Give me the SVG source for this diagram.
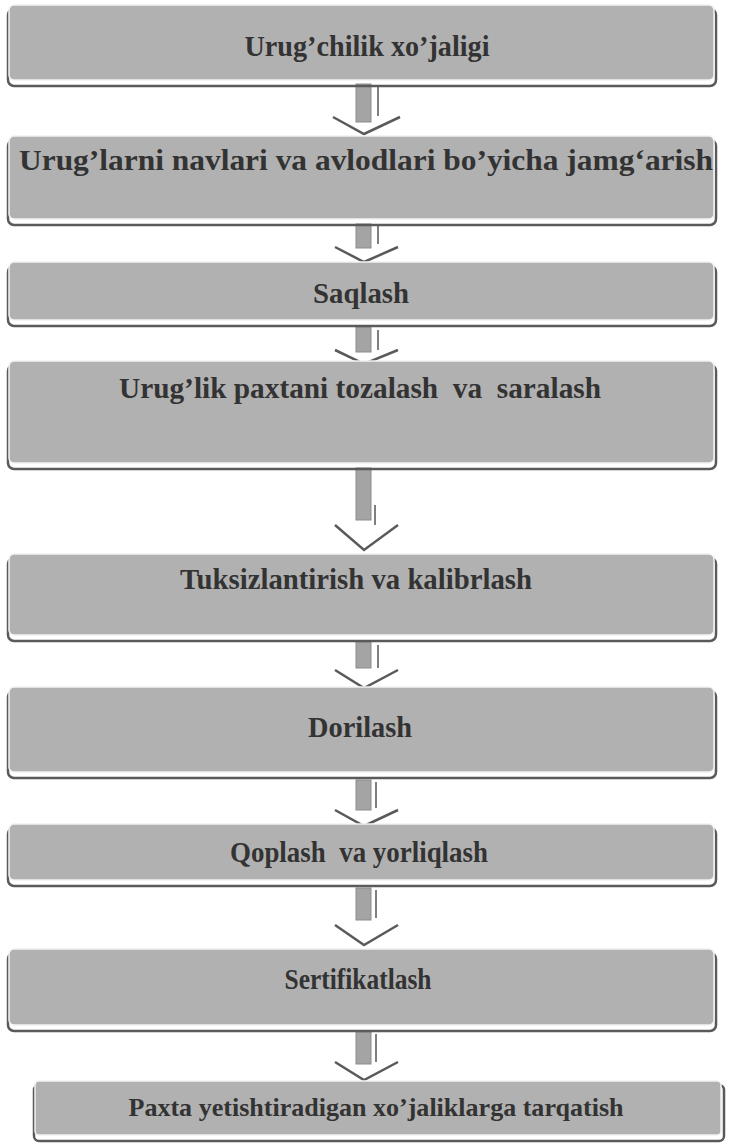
<svg xmlns="http://www.w3.org/2000/svg" width="731" height="1147" viewBox="0 0 731 1147">
<defs>
<style>
.sh{fill:none;stroke:#5a5a5a;stroke-width:2.5}
.bx{fill:#b1b1b1;stroke:#f2f2f2;stroke-width:1.5}
.t{font-family:"Liberation Serif","Times New Roman",serif;font-weight:bold;font-size:29px;fill:#333333;text-anchor:middle}
.shaft{fill:#a4a4a4;stroke:#8c8c8c;stroke-width:1}
.edge{stroke:#555;stroke-width:1.5}
.chev{fill:none;stroke:#5a5a5a;stroke-width:2.5;stroke-linejoin:miter}
</style>
</defs>
<rect width="731" height="1147" fill="#ffffff"/>
<g id="connectors">
<g><rect class="shaft" x="356" y="84" width="15" height="38"/><line class="edge" x1="378" y1="86" x2="378" y2="116"/><polyline class="chev" points="333,117 364,134 400,117"/></g>
<g><rect class="shaft" x="356" y="224" width="15" height="24"/><line class="edge" x1="378" y1="224" x2="378" y2="244"/><polyline class="chev" points="335,247 364,262 398,247"/></g>
<g><rect class="shaft" x="356" y="327" width="15" height="25"/><line class="edge" x1="378" y1="330" x2="378" y2="350"/><polyline class="chev" points="335,350 364,364 398,350"/></g>
<g><rect class="shaft" x="356" y="468" width="15" height="52"/><line class="edge" x1="375" y1="505" x2="375" y2="525"/><polyline class="chev" points="335,525 364,550 398,525"/></g>
<g><rect class="shaft" x="356" y="642" width="15" height="26"/><line class="edge" x1="378" y1="645" x2="378" y2="668"/><polyline class="chev" points="335,670 364,688 398,670"/></g>
<g><rect class="shaft" x="356" y="780" width="15" height="30"/><line class="edge" x1="376" y1="782" x2="376" y2="808"/><polyline class="chev" points="335,810 364,826 398,810"/></g>
<g><rect class="shaft" x="356" y="888" width="15" height="32"/><line class="edge" x1="376" y1="890" x2="376" y2="918"/><polyline class="chev" points="335,925 364,945 398,925"/></g>
<g><rect class="shaft" x="356" y="1032" width="15" height="32"/><line class="edge" x1="376" y1="1034" x2="376" y2="1062"/><polyline class="chev" points="335,1062 364,1080 398,1062"/></g>
</g>
<g id="n1"><rect class="sh" x="8" y="9" width="708" height="77" rx="6"/><rect class="bx" x="9" y="5" width="705" height="75" rx="5"/><text class="t" x="367" y="56" textLength="245" lengthAdjust="spacingAndGlyphs">Urug’chilik xo’jaligi</text></g>
<g id="n2"><rect class="sh" x="8" y="140" width="708" height="85" rx="6"/><rect class="bx" x="9" y="136" width="705" height="83" rx="5"/><text class="t" x="366" y="170" textLength="694" lengthAdjust="spacingAndGlyphs">Urug’larni navlari va avlodlari bo’yicha jamg‘arish</text></g>
<g id="n3"><rect class="sh" x="8" y="266" width="708" height="60" rx="6"/><rect class="bx" x="9" y="262" width="705" height="58" rx="5"/><text class="t" x="361" y="303" textLength="96" lengthAdjust="spacingAndGlyphs">Saqlash</text></g>
<g id="n4"><rect class="sh" x="8" y="365" width="708" height="104" rx="6"/><rect class="bx" x="9" y="361" width="705" height="102" rx="5"/><text class="t" x="360" y="398" textLength="482" lengthAdjust="spacingAndGlyphs" xml:space="preserve">Urug’lik paxtani tozalash  va  saralash</text></g>
<g id="n5"><rect class="sh" x="8" y="558" width="708" height="83" rx="6"/><rect class="bx" x="9" y="554" width="705" height="81" rx="5"/><text class="t" x="356" y="589" textLength="352" lengthAdjust="spacingAndGlyphs">Tuksizlantirish va kalibrlash</text></g>
<g id="n6"><rect class="sh" x="8" y="691" width="708" height="87" rx="6"/><rect class="bx" x="9" y="687" width="705" height="85" rx="5"/><text class="t" x="360" y="737" textLength="104" lengthAdjust="spacingAndGlyphs">Dorilash</text></g>
<g id="n7"><rect class="sh" x="8" y="828" width="708" height="58" rx="6"/><rect class="bx" x="9" y="824" width="705" height="56" rx="5"/><text class="t" x="359" y="862" textLength="258" lengthAdjust="spacingAndGlyphs" xml:space="preserve">Qoplash  va yorliqlash</text></g>
<g id="n8"><rect class="sh" x="8" y="953" width="708" height="78" rx="6"/><rect class="bx" x="9" y="949" width="705" height="76" rx="5"/><text class="t" x="358" y="989" textLength="147" lengthAdjust="spacingAndGlyphs">Sertifikatlash</text></g>
<g id="n9"><rect class="sh" x="34" y="1085" width="690" height="56" rx="5"/><rect class="bx" x="35" y="1081" width="686" height="54" rx="4"/><text class="t" style="font-size:26px" x="376" y="1116" textLength="495" lengthAdjust="spacingAndGlyphs">Paxta yetishtiradigan xo’jaliklarga tarqatish</text></g>
</svg>
